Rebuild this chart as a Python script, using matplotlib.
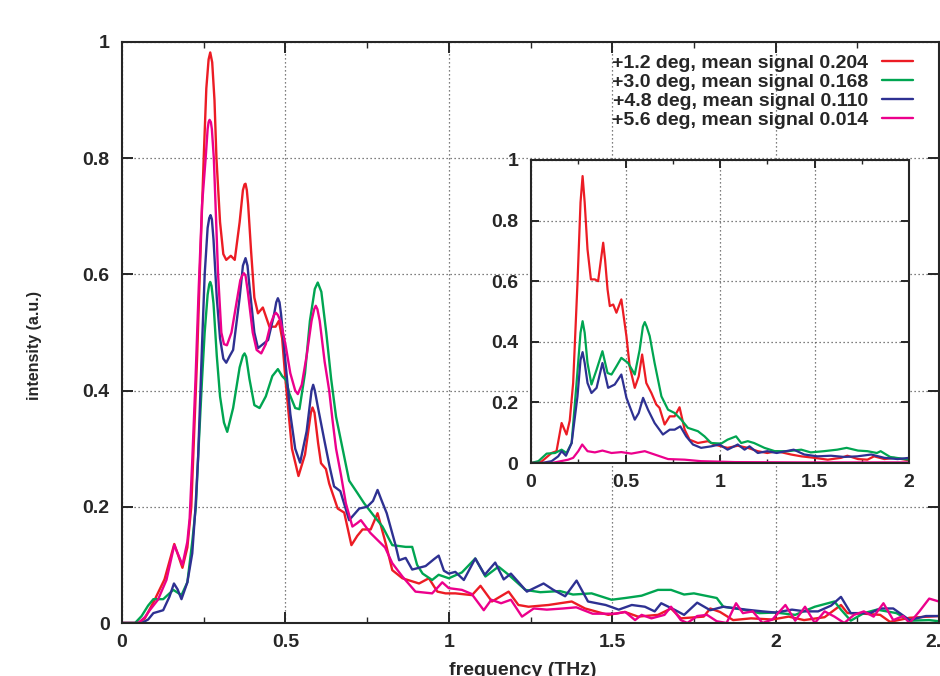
import matplotlib
matplotlib.use("Agg")
import matplotlib.pyplot as plt
from matplotlib.ticker import MultipleLocator

# ---------------- data: main panel (frequency in THz, intensity in a.u.) ----------------
red_f = [0.0, 0.05, 0.07, 0.1, 0.13, 0.16, 0.185, 0.2, 0.212, 0.22, 0.23, 0.238, 0.25, 0.258,
         0.265, 0.27, 0.276, 0.283, 0.289, 0.3, 0.31, 0.319, 0.333, 0.345, 0.36, 0.37, 0.375,
         0.378, 0.382, 0.386, 0.395,
         0.405, 0.416, 0.431, 0.451, 0.47, 0.48, 0.49, 0.5, 0.52, 0.54, 0.56, 0.578, 0.583,
         0.589, 0.6,
         0.609, 0.624, 0.634, 0.66, 0.68, 0.702, 0.72, 0.736, 0.761, 0.782, 0.807, 0.827,
         0.858, 0.909, 0.939, 0.965, 0.99, 1.02, 1.071, 1.097, 1.132, 1.183, 1.213, 1.244,
         1.305, 1.376, 1.417, 1.488, 1.539, 1.579, 1.64, 1.68, 1.71, 1.78, 1.8, 1.83, 1.87,
         1.925, 1.99, 2.04, 2.087, 2.15, 2.2, 2.22, 2.27, 2.32, 2.35, 2.41, 2.47, 2.5]
red_v = [0.0, 0.0, 0.008, 0.04, 0.075, 0.136, 0.095, 0.13, 0.2, 0.315, 0.46, 0.6, 0.8, 0.92,
         0.97, 0.982, 0.965, 0.9, 0.8, 0.69, 0.635, 0.625, 0.632, 0.625, 0.69, 0.745, 0.755,
         0.756, 0.745, 0.72, 0.64,
         0.56, 0.533, 0.543, 0.51, 0.51, 0.52, 0.49, 0.42, 0.3, 0.253, 0.29, 0.362, 0.371,
         0.362, 0.31,
         0.275, 0.265, 0.24, 0.197, 0.19, 0.134, 0.15, 0.161, 0.161, 0.189, 0.137, 0.091,
         0.077, 0.068, 0.077, 0.054, 0.051, 0.051, 0.048, 0.064, 0.037, 0.054, 0.031, 0.028,
         0.031, 0.037, 0.025, 0.014, 0.019, 0.011, 0.014, 0.025, 0.008, 0.011, 0.025, 0.019,
         0.005, 0.008, 0.006, 0.011, 0.005, 0.01, 0.031, 0.017, 0.016, 0.014, 0.002, 0.009,
         0.011, 0.012]

green_f = [0.0, 0.04, 0.06, 0.08, 0.096, 0.126, 0.157, 0.182, 0.2, 0.215, 0.226, 0.233,
           0.245, 0.253, 0.262, 0.267, 0.27, 0.274, 0.28, 0.29, 0.3, 0.312, 0.322, 0.34, 0.36,
           0.37, 0.375, 0.38, 0.39,
           0.405, 0.421, 0.44, 0.46, 0.477, 0.49, 0.502, 0.512, 0.53, 0.543, 0.56, 0.575, 0.59,
           0.599, 0.61, 0.625, 0.64, 0.655, 0.675, 0.695, 0.72, 0.741, 0.77, 0.797, 0.827,
           0.868, 0.888, 0.903, 0.92, 0.949, 0.969, 1.0, 1.04, 1.081, 1.112, 1.152, 1.183,
           1.234, 1.28, 1.34, 1.38, 1.437, 1.498, 1.54, 1.59, 1.64, 1.68, 1.72, 1.75, 1.82,
           1.84, 1.9, 1.95, 2.0, 2.06, 2.12, 2.18, 2.2, 2.23, 2.27, 2.31, 2.37, 2.41, 2.47, 2.5]
green_v = [0.0, 0.0, 0.012, 0.03, 0.041, 0.041, 0.057, 0.048, 0.07, 0.14, 0.2, 0.286,
           0.42, 0.5, 0.565, 0.583, 0.587, 0.58, 0.55, 0.46, 0.39, 0.345, 0.329, 0.37, 0.44,
           0.46, 0.464, 0.458, 0.42,
           0.375, 0.37, 0.39, 0.425, 0.437, 0.425, 0.418, 0.395, 0.37, 0.368, 0.43, 0.52, 0.575,
           0.586, 0.57, 0.5, 0.42, 0.355, 0.3, 0.245, 0.224, 0.206, 0.185, 0.166, 0.134,
           0.131, 0.131, 0.1, 0.085, 0.074, 0.083, 0.077, 0.087, 0.111, 0.08, 0.097, 0.083,
           0.057, 0.053, 0.055, 0.049, 0.051, 0.04, 0.043, 0.047, 0.057, 0.057, 0.049, 0.051,
           0.043, 0.028, 0.023, 0.017, 0.018, 0.014, 0.028, 0.037, 0.023, 0.004, 0.017, 0.023,
           0.017, 0.004, 0.005, 0.003]

blue_f = [0.0, 0.06, 0.08, 0.096, 0.126, 0.145, 0.159, 0.17, 0.182, 0.2, 0.215, 0.225,
          0.233, 0.245, 0.253, 0.262, 0.267, 0.271, 0.275, 0.28, 0.29, 0.3, 0.31, 0.319, 0.33,
          0.34, 0.36, 0.37, 0.378, 0.384, 0.39, 0.405, 0.416, 0.447, 0.465, 0.472, 0.477,
          0.482, 0.487, 0.5, 0.515, 0.53, 0.545,
          0.565, 0.58, 0.585, 0.59, 0.6, 0.619, 0.635, 0.649, 0.668, 0.695, 0.726, 0.75, 0.768,
          0.782, 0.795, 0.81, 0.837, 0.848, 0.868, 0.888, 0.929, 0.955, 0.969, 0.985, 1.0, 1.02,
          1.046, 1.081, 1.11, 1.142, 1.168, 1.19, 1.239, 1.29, 1.32, 1.356, 1.391, 1.426,
          1.48, 1.52, 1.56, 1.6, 1.63, 1.65, 1.69, 1.72, 1.76, 1.8, 1.84, 1.91, 1.96, 2.0,
          2.05, 2.09, 2.13, 2.17, 2.2, 2.23, 2.29, 2.32, 2.36, 2.41, 2.46, 2.5]
blue_v = [0.0, 0.0, 0.006, 0.017, 0.022, 0.045, 0.068, 0.058, 0.041, 0.07, 0.12, 0.2,
          0.286, 0.48, 0.6, 0.68, 0.697, 0.702, 0.695, 0.66, 0.56, 0.49, 0.455, 0.448, 0.46,
          0.47, 0.56, 0.615, 0.628, 0.615, 0.58, 0.5, 0.473, 0.487, 0.53, 0.552, 0.559,
          0.552, 0.53, 0.45, 0.36, 0.3, 0.276,
          0.33, 0.4, 0.41, 0.4, 0.37, 0.315, 0.27, 0.235, 0.227, 0.177, 0.197, 0.2, 0.21,
          0.229, 0.21, 0.189, 0.134, 0.108, 0.112, 0.092, 0.098, 0.11, 0.116, 0.09, 0.085,
          0.088,
          0.074, 0.111, 0.083, 0.104, 0.075, 0.085, 0.054, 0.068, 0.057, 0.046, 0.073, 0.037,
          0.031, 0.023, 0.031, 0.028, 0.02, 0.034, 0.023, 0.014, 0.035, 0.022, 0.028, 0.023,
          0.02, 0.018, 0.023, 0.02, 0.02, 0.03, 0.045, 0.017, 0.017, 0.025, 0.025, 0.005,
          0.012, 0.012]

pink_f = [0.0, 0.05, 0.07, 0.085, 0.11, 0.136, 0.16, 0.185, 0.2, 0.207, 0.215, 0.225,
          0.235, 0.245, 0.256, 0.262, 0.265, 0.268, 0.272, 0.275, 0.281, 0.294, 0.304, 0.312,
          0.321, 0.335,
          0.35, 0.362, 0.368, 0.373, 0.378, 0.385, 0.4, 0.412, 0.426, 0.44, 0.455, 0.465,
          0.471, 0.477, 0.485, 0.5, 0.515,
          0.53, 0.538, 0.55, 0.565, 0.58, 0.588, 0.593, 0.598, 0.605, 0.62, 0.634, 0.644,
          0.655, 0.67,
          0.685, 0.705, 0.72, 0.731, 0.76, 0.787, 0.805, 0.827, 0.858, 0.898, 0.949, 0.969,
          0.98, 1.0, 1.04, 1.07, 1.107, 1.13, 1.16, 1.19, 1.224, 1.26, 1.3, 1.35, 1.39, 1.44,
          1.48, 1.51, 1.54, 1.57, 1.59, 1.62, 1.66, 1.68, 1.71, 1.73, 1.76, 1.79, 1.82, 1.85,
          1.879, 1.9, 1.93, 1.96, 1.99, 2.03, 2.06, 2.09, 2.12, 2.15, 2.18, 2.21, 2.24, 2.27,
          2.3, 2.33, 2.36, 2.39, 2.41, 2.44, 2.47, 2.5]
pink_v = [0.0, 0.0, 0.01, 0.022, 0.04, 0.074, 0.134, 0.1, 0.14, 0.18, 0.28, 0.42,
          0.58, 0.72, 0.8, 0.85, 0.862, 0.866, 0.862, 0.85, 0.8, 0.6, 0.5, 0.48,
          0.478, 0.5,
          0.55, 0.59, 0.598, 0.602, 0.598, 0.57, 0.5, 0.47, 0.464, 0.48, 0.515, 0.53,
          0.534, 0.53, 0.52, 0.48, 0.43,
          0.4, 0.394, 0.41, 0.46, 0.52, 0.54, 0.546, 0.54, 0.52, 0.45, 0.4, 0.35,
          0.3, 0.255,
          0.206, 0.166, 0.172, 0.177, 0.155, 0.14, 0.13, 0.103, 0.08, 0.054, 0.051, 0.063,
          0.07, 0.06, 0.057, 0.05, 0.022, 0.04, 0.034, 0.04, 0.011, 0.025, 0.023, 0.025, 0.027,
          0.016, 0.016, 0.016, 0.019, 0.005, 0.014, 0.008, 0.014, 0.028, 0.005, 0.0, 0.012,
          0.014, 0.003, 0.0, 0.034, 0.017, 0.02, 0.0, 0.006, 0.031, 0.004, 0.028, 0.0, 0.02,
          0.011, 0.0, 0.014, 0.02, 0.011, 0.034, 0.005, 0.012, 0.0, 0.02, 0.042, 0.037]

# ---------------- data: inset panel ----------------
in_red_f = [0.0, 0.056, 0.109, 0.135, 0.162, 0.188, 0.205, 0.223, 0.246, 0.262, 0.273,
            0.284, 0.299,
            0.317, 0.338, 0.355, 0.372, 0.382, 0.392, 0.405, 0.417, 0.435, 0.452, 0.478,
            0.505, 0.522,
            0.549, 0.57, 0.588, 0.61, 0.637, 0.663, 0.68, 0.707, 0.734, 0.76, 0.786, 0.813,
            0.839, 0.883, 0.936, 0.971, 1.006, 1.04, 1.094, 1.147, 1.2, 1.25, 1.3, 1.376,
            1.43, 1.5, 1.57, 1.64, 1.674, 1.73, 1.78, 1.815, 1.87, 1.92, 2.0]
in_red_v = [0.0, 0.005, 0.033, 0.039, 0.132, 0.094, 0.14, 0.264, 0.595, 0.86, 0.947,
            0.86, 0.705,
            0.606, 0.606, 0.6, 0.68, 0.727, 0.67, 0.573, 0.518, 0.523, 0.496, 0.54,
            0.418, 0.319,
            0.248, 0.286, 0.358, 0.264, 0.231, 0.193, 0.182, 0.127, 0.154, 0.154, 0.184, 0.11,
            0.077, 0.066, 0.072, 0.061, 0.055, 0.05, 0.057, 0.05, 0.039, 0.033, 0.039, 0.028,
            0.022, 0.017, 0.011, 0.017, 0.024, 0.013, 0.011, 0.022, 0.013, 0.017, 0.009]

in_green_f = [0.0, 0.039, 0.083, 0.127, 0.162, 0.188, 0.215, 0.241, 0.262, 0.273, 0.284,
              0.299, 0.32,
              0.347, 0.378, 0.405, 0.426, 0.452, 0.478, 0.514, 0.549, 0.575, 0.592, 0.602,
              0.612, 0.628,
              0.654, 0.69, 0.725, 0.76, 0.795, 0.83, 0.883, 0.918, 0.953, 1.006, 1.04, 1.085,
              1.112, 1.147, 1.18, 1.235, 1.29, 1.36, 1.43, 1.48, 1.55, 1.62, 1.67, 1.73, 1.78,
              1.83, 1.85, 1.9, 2.0]
in_green_v = [0.0, 0.006, 0.031, 0.033, 0.044, 0.033, 0.066, 0.264, 0.43, 0.468, 0.43,
              0.33, 0.259,
              0.308, 0.369, 0.297, 0.292, 0.319, 0.347, 0.33, 0.292, 0.374, 0.45, 0.465,
              0.45, 0.419,
              0.33, 0.22, 0.176, 0.165, 0.143, 0.116, 0.105, 0.088, 0.066, 0.064, 0.077, 0.088,
              0.066, 0.072, 0.066, 0.05, 0.039, 0.039, 0.044, 0.035, 0.039, 0.044, 0.05, 0.041,
              0.039, 0.033, 0.039, 0.02, 0.011]

in_blue_f = [0.0, 0.056, 0.109, 0.144, 0.162, 0.185, 0.215, 0.246, 0.262, 0.273, 0.284,
             0.299, 0.32,
             0.347, 0.378, 0.408, 0.443, 0.478, 0.505, 0.549, 0.57, 0.593, 0.619, 0.654,
             0.698, 0.734, 0.76, 0.79, 0.821, 0.857, 0.9, 0.953, 0.997, 1.04, 1.094, 1.13,
             1.156, 1.2, 1.25, 1.3, 1.39, 1.446, 1.516, 1.587, 1.657, 1.727, 1.8, 1.87, 1.94,
             2.0]
in_blue_v = [0.0, 0.0, 0.006, 0.022, 0.039, 0.024, 0.066, 0.22, 0.34, 0.366, 0.33,
             0.264, 0.231,
             0.248, 0.33, 0.248, 0.259, 0.292, 0.215, 0.143, 0.165, 0.215, 0.176, 0.132,
             0.094, 0.11, 0.11, 0.121, 0.088, 0.061, 0.05, 0.055, 0.061, 0.044, 0.061, 0.044,
             0.055, 0.033, 0.039, 0.033, 0.044, 0.028, 0.022, 0.024, 0.02, 0.022, 0.028, 0.017,
             0.013, 0.017]

in_pink_f = [0.0, 0.11, 0.197, 0.223, 0.25, 0.271, 0.299, 0.338, 0.378, 0.426, 0.478,
             0.531, 0.602, 0.654, 0.725, 0.813, 0.9, 1.08, 1.43, 2.0]
in_pink_v = [0.0, 0.0, 0.011, 0.017, 0.039, 0.061, 0.039, 0.035, 0.041, 0.033, 0.036,
             0.031, 0.039, 0.028, 0.013, 0.011, 0.006, 0.003, 0.002, 0.002]

labels = ["+1.2 deg, mean signal 0.204",
          "+3.0 deg, mean signal 0.168",
          "+4.8 deg, mean signal 0.110",
          "+5.6 deg, mean signal 0.014"]
colors = ["#ec1c24", "#00a551", "#2e3192", "#ec008c"]

main_x_ticks = [0, 0.5, 1, 1.5, 2, 2.5]
main_x_labels = ["0", "0.5", "1", "1.5", "2", "2.5"]
inset_x_ticks = [0, 0.5, 1, 1.5, 2]
inset_x_labels = ["0", "0.5", "1", "1.5", "2"]
y_ticks = [0, 0.2, 0.4, 0.6, 0.8, 1.0]
y_labels = ["0", "0.2", "0.4", "0.6", "0.8", "1"]

# ---------------- figure ----------------
plt.rcParams["font.family"] = ["Liberation Sans", "DejaVu Sans"]
plt.rcParams["font.weight"] = "bold"

W, H = 940, 676
fig = plt.figure(figsize=(W / 100, H / 100), dpi=100)
fig.patch.set_facecolor("white")

ink = "#262626"
grid_style = dict(color="#555555", linestyle=(0, (1, 2.2)), linewidth=0.9)


def style_axes(ax, xt, xl, tick_len, fs, xpad, ypad):
    ax.set_xticks(xt)
    ax.set_xticklabels(xl)
    ax.set_yticks(y_ticks)
    ax.set_yticklabels(y_labels)
    ax.xaxis.set_minor_locator(MultipleLocator(0.25))
    ax.tick_params(which="major", direction="in", length=tick_len, width=1.4,
                   top=True, right=True, color=ink, labelsize=fs, labelcolor=ink)
    ax.tick_params(axis="x", which="major", pad=xpad)
    ax.tick_params(axis="y", which="major", pad=ypad)
    ax.tick_params(which="minor", direction="in", length=tick_len / 2, width=1.0,
                   top=True, right=True, color=ink)
    for s in ax.spines.values():
        s.set_color(ink)
        s.set_linewidth(1.5)
    ax.grid(True, which="major", **grid_style)
    ax.set_axisbelow(True)
    for lbl in ax.get_xticklabels() + ax.get_yticklabels():
        lbl.set_fontweight("bold")


# main panel
ax = fig.add_axes([122 / W, 1 - 623 / H, (939 - 122) / W, (623 - 42) / H])
series = [(red_f, red_v), (green_f, green_v), (blue_f, blue_v), (pink_f, pink_v)]
handles = []
for (fx, fy), c, lab in zip(series, colors, labels):
    h, = ax.plot(fx, fy, color=c, lw=1.7, label=lab,
                 solid_joinstyle="round", solid_capstyle="round")
    handles.append(h)
ax.set_xlim(0, 2.5)
ax.set_ylim(0, 1)
style_axes(ax, main_x_ticks, main_x_labels, 8, 14, 8, 9)

ax.set_xlabel("frequency (THz)", fontsize=14, fontweight="bold", color=ink)
ax.xaxis.set_label_coords(0.49, -0.067)
ax.set_ylabel("intensity (a.u.)", fontsize=11.5, fontweight="bold", color=ink)
ax.yaxis.set_label_coords(-0.098, 0.478)

leg = ax.legend(handles=handles, loc="upper right",
                bbox_to_anchor=(913 / W, 1 - 54 / H), bbox_transform=fig.transFigure,
                frameon=False, markerfirst=False, handlelength=1.6, handletextpad=0.72,
                labelspacing=0.08, borderpad=0, borderaxespad=0,
                prop={"weight": "bold", "size": 14})
for t in leg.get_texts():
    t.set_color(ink)

# inset panel
axi = fig.add_axes([531 / W, 1 - 463 / H, (909 - 531) / W, (463 - 160) / H])
axi.set_facecolor("white")
inset_series = [(in_red_f, in_red_v), (in_green_f, in_green_v),
                (in_blue_f, in_blue_v), (in_pink_f, in_pink_v)]
for (fx, fy), c in zip(inset_series, colors):
    axi.plot(fx, fy, color=c, lw=1.6, solid_joinstyle="round", solid_capstyle="round")
axi.set_xlim(0, 2)
axi.set_ylim(0, 1)
style_axes(axi, inset_x_ticks, inset_x_labels, 6, 14, 8, 9)

fig.savefig("out.png", dpi=100)
